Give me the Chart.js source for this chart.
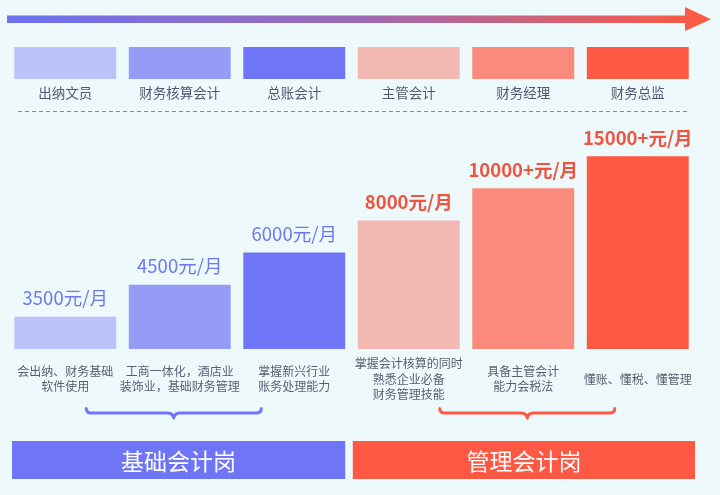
<!DOCTYPE html>
<html>
<head>
<meta charset="utf-8">
<script src="https://cdn.jsdelivr.net/npm/chart.js@4/dist/chart.umd.min.js"></script>
<style>
html,body{margin:0;padding:0;background:#EEF9FC;}
canvas{display:block;}
</style>
</head>
<body>
<canvas id="c" width="720" height="495"></canvas>
<script>
// ---- data ----
const categories = ['出纳文员', '财务核算会计', '总账会计', '主管会计', '财务经理', '财务总监'];
const levels = [1, 2, 3, 4, 5, 6];
const salaryLabels = ['3500元/月', '4500元/月', '6000元/月', '8000元/月', '10000+元/月', '15000+元/月'];
const descriptions = [
  ['会出纳、财务基础', '软件使用'],
  ['工商一体化，酒店业', '装饰业，基础财务管理'],
  ['掌握新兴行业', '账务处理能力'],
  ['掌握会计核算的同时', '熟悉企业必备', '财务管理技能'],
  ['具备主管会计', '能力会税法'],
  ['懂账、懂税、懂管理']
];
const groupNames = ['基础会计岗', '管理会计岗'];
const groupMembers = [[0, 1, 2], [3, 4, 5]];

// ---- styles ----
const barColors = ['#BCC3FA', '#959CF8', '#6E75F6', '#F4B8B2', '#F98A7C', '#FF5843'];
const groupColors = ['#6E75F6', '#FF5843'];
const labelColors = ['#6E78EE', '#6E78EE', '#6E78EE', '#F0533F', '#F0533F', '#F0533F'];
const FONT = '"Noto Sans CJK SC", "Noto Sans", sans-serif';

const decor = {
  id: 'decor',
  beforeDraw(chart) {
    const ctx = chart.ctx;
    ctx.save();
    ctx.fillStyle = '#EEF9FC';
    ctx.fillRect(0, 0, chart.width, chart.height);
    ctx.restore();
  },
  afterDatasetsDraw(chart) {
    const ctx = chart.ctx;
    const meta = chart.getDatasetMeta(0);
    const bars = meta.data;
    const area = chart.chartArea;
    ctx.save();

    // top gradient arrow
    const g = ctx.createLinearGradient(7, 0, 711, 0);
    g.addColorStop(0, '#6C72F2');
    g.addColorStop(0.5, '#9D6BB4');
    g.addColorStop(1, '#FF5A40');
    ctx.fillStyle = g;
    ctx.fillRect(7, 15.5, 680, 7.5);
    ctx.beginPath();
    ctx.moveTo(685, 7);
    ctx.lineTo(711, 19.3);
    ctx.lineTo(685, 31);
    ctx.closePath();
    ctx.fill();

    // legend boxes + names
    bars.forEach((b, i) => {
      const w = b.width;
      const l = b.x - w / 2;
      ctx.fillStyle = barColors[i];
      ctx.fillRect(l, 47, w, 32);
      ctx.fillStyle = '#4F5A72';
      ctx.font = '13.5px ' + FONT;
      ctx.textAlign = 'center';
      ctx.textBaseline = 'middle';
      ctx.fillText(categories[i], b.x, 93);
    });

    // dashed separator
    ctx.strokeStyle = '#6E92AA';
    ctx.lineWidth = 1;
    ctx.setLineDash([4, 3]);
    ctx.beginPath();
    ctx.moveTo(18, 111.5);
    ctx.lineTo(688, 111.5);
    ctx.stroke();
    ctx.setLineDash([]);

    // salary labels and descriptions
    bars.forEach((b, i) => {
      ctx.textAlign = 'center';
      ctx.textBaseline = 'middle';
      ctx.fillStyle = labelColors[i];
      ctx.font = (i >= 3 ? 'bold ' : '') + '18.5px ' + FONT;
      ctx.fillText(salaryLabels[i], b.x, b.y - 18.5);

      ctx.fillStyle = '#585F73';
      ctx.font = '12px ' + FONT;
      const lines = descriptions[i];
      const lh = 15.8;
      const cy = 379;
      lines.forEach((t, k) => {
        ctx.fillText(t, b.x, cy + (k - (lines.length - 1) / 2) * lh);
      });
    });

    // braces
    const braceDefs = [
      { c: bars[1].x - 6, col: groupColors[0] },
      { c: bars[4].x + 4, col: groupColors[1] }
    ];
    braceDefs.forEach(d => {
      const x0 = d.c - 87.5, x1 = d.c + 87.5, cx = d.c, y = 413;
      ctx.strokeStyle = d.col;
      ctx.lineWidth = 3;
      ctx.lineCap = 'round';
      ctx.lineJoin = 'round';
      ctx.beginPath();
      ctx.moveTo(x0, 408.5);
      ctx.quadraticCurveTo(x0, y, x0 + 5, y);
      ctx.lineTo(cx - 6, y);
      ctx.quadraticCurveTo(cx - 1, y, cx, y + 5);
      ctx.quadraticCurveTo(cx + 1, y, cx + 6, y);
      ctx.lineTo(x1 - 5, y);
      ctx.quadraticCurveTo(x1, y, x1, 408.5);
      ctx.stroke();
    });

    // group boxes
    const gb = [
      { l: 12, r: bars[2].x + bars[2].width / 2 },
      { l: bars[3].x - bars[3].width / 2 - 5, r: area.right }
    ];
    gb.forEach((g2, i) => {
      ctx.fillStyle = groupColors[i];
      ctx.fillRect(g2.l, 441, g2.r - g2.l, 38);
      ctx.fillStyle = '#FFFFFF';
      ctx.font = '23px ' + FONT;
      ctx.textAlign = 'center';
      ctx.textBaseline = 'middle';
      ctx.fillText(groupNames[i], (g2.l + g2.r) / 2, 461);
    });

    ctx.restore();
  }
};

new Chart(document.getElementById('c'), {
  type: 'bar',
  data: {
    labels: categories,
    datasets: [{
      data: levels,
      backgroundColor: barColors,
      borderWidth: 0,
      barPercentage: 0.89,
      categoryPercentage: 1
    }]
  },
  options: {
    responsive: false,
    animation: false,
    events: [],
    layout: { padding: { left: 8, right: 25, top: 124, bottom: 146 } },
    plugins: { legend: { display: false }, tooltip: { enabled: false } },
    scales: {
      x: { display: false, offset: true },
      y: { display: false, min: 0, max: 7 }
    }
  },
  plugins: [decor]
});
</script>
</body>
</html>
